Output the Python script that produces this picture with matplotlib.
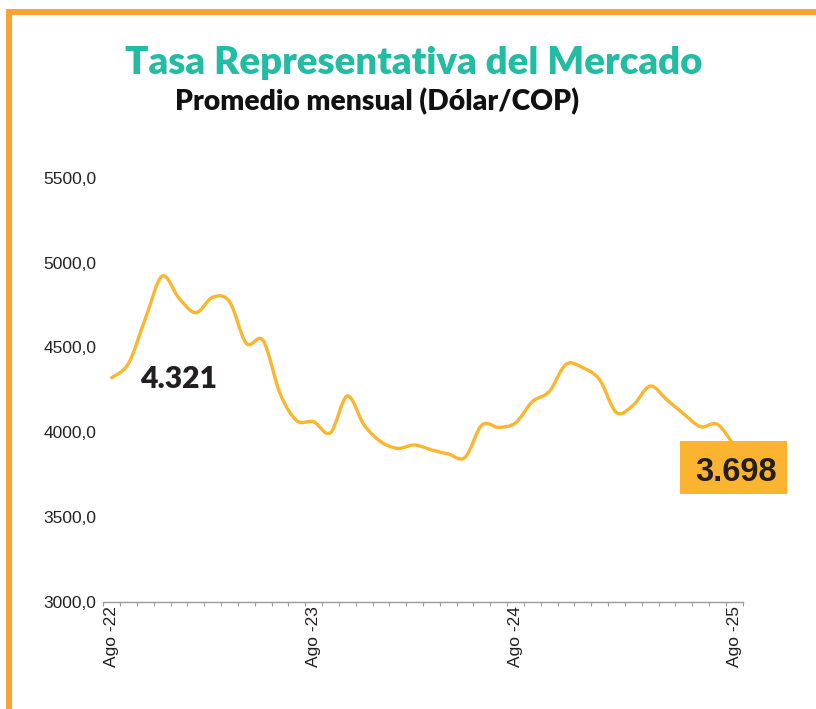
import matplotlib.pyplot as plt
from matplotlib.path import Path
from matplotlib.patches import PathPatch, Rectangle
import numpy as np

# monthly average TRM, Ago-22 onwards
trm = [4321, 4406, 4670, 4921, 4790, 4705, 4796, 4770, 4524, 4540,
       4229, 4067, 4061, 3996, 4213, 4042, 3943, 3904, 3924, 3895,
       3871, 3851, 4042, 4028, 4055, 4180, 4239, 4400, 4380, 4308,
       4115, 4160, 4272, 4190, 4107, 4032, 4046, 3920]
tick_pos = [0, 12, 24, 37]
tick_labels = ['Ago -22', 'Ago -23', 'Ago -24', 'Ago -25']
y_ticks = [3000, 3500, 4000, 4500, 5000, 5500]
first_label = '4.321'
last_label = '3.698'

W, H = 816, 709
line_col = '#FBB52F'
dark = '#231F20'

fig = plt.figure(figsize=(W / 100, H / 100), dpi=100)
ax = fig.add_axes([103.3 / W, 1 - 601.5 / H, 639.4 / W, 423.5 / H])


def fx(x):
    return x / W


def fy(y):
    return 1 - y / H


# smooth line through the monthly points (Catmull-Rom as cubic beziers)
x = np.arange(len(trm), dtype=float)
y = np.array(trm, dtype=float)
verts = [(x[0], y[0])]
codes = [Path.MOVETO]
for i in range(len(x) - 1):
    p0 = (x[max(i - 1, 0)], y[max(i - 1, 0)])
    p1 = (x[i], y[i])
    p2 = (x[i + 1], y[i + 1])
    p3 = (x[min(i + 2, len(x) - 1)], y[min(i + 2, len(x) - 1)])
    c1 = (p1[0] + (p2[0] - p0[0]) / 6, p1[1] + (p2[1] - p0[1]) / 6)
    c2 = (p2[0] - (p3[0] - p1[0]) / 6, p2[1] - (p3[1] - p1[1]) / 6)
    verts += [c1, c2, p2]
    codes += [Path.CURVE4] * 3
ax.add_patch(PathPatch(Path(verts, codes), fc='none', ec=line_col, lw=2.4,
                       capstyle='round', joinstyle='round', zorder=3))

ax.set_xlim(-0.5, len(trm) - 0.5)
ax.set_ylim(3000, 5500)
for s in ['left', 'right', 'top']:
    ax.spines[s].set_visible(False)
ax.spines['bottom'].set_color('#9a9a9a')
ax.spines['bottom'].set_linewidth(1.0)

ax.set_xticks(tick_pos)
ax.set_xticklabels(tick_labels, rotation=90, fontsize=12.5,
                   family='Liberation Sans', color=dark)
ax.set_xticks(np.arange(-0.5, len(trm), 1), minor=True)
ax.tick_params(axis='x', which='major', length=0, pad=3)
ax.tick_params(axis='x', which='minor', length=3, color='#9a9a9a', width=0.8)

ax.set_yticks(y_ticks)
ax.set_yticklabels([f'{v:.1f}'.replace('.', ',') for v in y_ticks],
                   fontsize=12.5, family='Liberation Sans', color='#222222')
ax.tick_params(axis='y', length=0, pad=5)

# frame
fig.add_artist(Rectangle((fx(6), 0), fx(6), fy(9), transform=fig.transFigure,
                         fc='#F9A236', ec='none'))
fig.add_artist(Rectangle((fx(6), fy(15)), 1, 6 / H, transform=fig.transFigure,
                         fc='#F9A236', ec='none'))


def fit(t, width_px):
    fig.canvas.draw()
    r = fig.canvas.get_renderer()
    w = t.get_window_extent(r).width
    t.set_fontsize(t.get_fontsize() * width_px / w)


# titles
t1 = fig.text(fx(414), fy(74), 'Tasa Representativa del Mercado', ha='center',
              va='baseline', fontsize=26, weight='heavy', family='Lato', color='#22BCA2')
fit(t1, 578)
t2 = fig.text(fx(175), fy(110), 'Promedio mensual (Dólar/COP)', ha='left',
              va='baseline', fontsize=16, weight='heavy', family='Lato', color='#111111')
fit(t2, 403)

# value labels
t3 = fig.text(fx(140), fy(388), first_label, ha='left', va='baseline',
              fontsize=22, weight='heavy', family='Lato', color=dark)
fit(t3, 77)
fig.add_artist(Rectangle((fx(680), fy(494)), fx(107), (494 - 441) / H,
                         transform=fig.transFigure, fc='#FBB430', ec='none', zorder=5))
t4 = fig.text(fx(695), fy(481), last_label, ha='left', va='baseline', zorder=6,
              fontsize=22, weight='bold', family='Liberation Sans', color=dark)
fit(t4, 82)

fig.savefig('out.png', dpi=100)
